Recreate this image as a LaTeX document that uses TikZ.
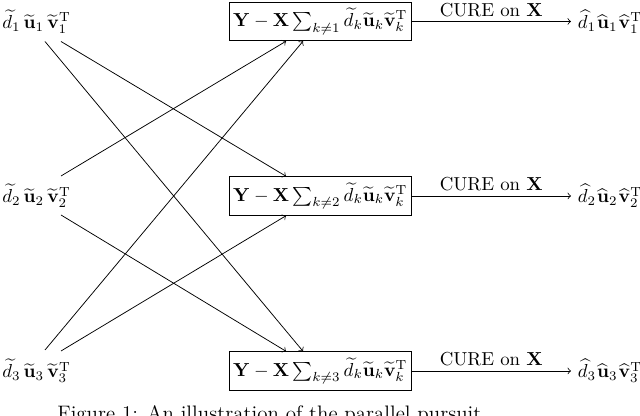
\documentclass[tikz,border=0pt]{standalone}
\usetikzlibrary{calc}
\begin{document}
\begin{tikzpicture}[x=0.532pt,y=-0.532pt,
  lab/.style={inner sep=0pt,anchor=west},
  res/.style={inner sep=3.5pt,anchor=west},
  box/.style={draw,thin,anchor=west,inner sep=2pt,minimum height=20.6pt},
  conn/.style={thin,->},
  cure/.style={above,inner sep=2.5pt}]
\clip (0,0) rectangle (640,416);
% left nodes
\node[lab] (L1) at (2,21.5) {$\widetilde{d}_1\,\widetilde{\mathbf{u}}_1\,\widetilde{\mathbf{v}}_1^{\mathrm{T}}$};
\node[lab] (L2) at (2,196) {$\widetilde{d}_2\,\widetilde{\mathbf{u}}_2\,\widetilde{\mathbf{v}}_2^{\mathrm{T}}$};
\node[lab] (L3) at (2,371) {$\widetilde{d}_3\,\widetilde{\mathbf{u}}_3\,\widetilde{\mathbf{v}}_3^{\mathrm{T}}$};
% boxes
\node[box] (B1) at (229,21.5) {$\mathbf{Y}-\mathbf{X}\sum_{k\neq1}\widetilde{d}_k\widetilde{\mathbf{u}}_k\widetilde{\mathbf{v}}_k^{\mathrm{T}}$};
\node[box] (B2) at (229,196) {$\mathbf{Y}-\mathbf{X}\sum_{k\neq2}\widetilde{d}_k\widetilde{\mathbf{u}}_k\widetilde{\mathbf{v}}_k^{\mathrm{T}}$};
\node[box] (B3) at (229,371) {$\mathbf{Y}-\mathbf{X}\sum_{k\neq3}\widetilde{d}_k\widetilde{\mathbf{u}}_k\widetilde{\mathbf{v}}_k^{\mathrm{T}}$};
% right nodes
\node[res] (R1) at (571,21.5) {$\widehat{d}_1\mkern1mu\widehat{\mathbf{u}}_1\mkern1mu\widehat{\mathbf{v}}_1^{\mathrm{T}}$};
\node[res] (R2) at (571,196) {$\widehat{d}_2\mkern1mu\widehat{\mathbf{u}}_2\mkern1mu\widehat{\mathbf{v}}_2^{\mathrm{T}}$};
\node[res] (R3) at (571,371) {$\widehat{d}_3\mkern1mu\widehat{\mathbf{u}}_3\mkern1mu\widehat{\mathbf{v}}_3^{\mathrm{T}}$};
% crossing connectors
\draw[conn] ($(L1.west)+(59,20)$) -- ($(B2.north west)+(57,0)$);
\draw[conn] ($(L1.west)+(43,20)$) -- ($(B3.north west)+(74,0)$);
\draw[conn] ($(L2.west)+(59,-20)$) -- ($(B1.south west)+(57,0)$);
\draw[conn] ($(L2.west)+(59,19)$) -- ($(B3.north west)+(57,0)$);
\draw[conn] ($(L3.west)+(43,-21)$) -- ($(B1.south west)+(74,0)$);
\draw[conn] ($(L3.west)+(59,-20)$) -- ($(B2.south west)+(57,0)$);
% CURE arrows
\draw[conn] (B1.east) -- node[cure] {CURE on $\mathbf{X}$} (R1.west);
\draw[conn] (B2.east) -- node[cure] {CURE on $\mathbf{X}$} (R2.west);
\draw[conn] (B3.east) -- node[cure] {CURE on $\mathbf{X}$} (R3.west);
% caption
\node[anchor=base west,inner sep=0pt,font=\fontsize{11.15}{13.6}\selectfont] (cap) at (57,421) {Figure 1: An illustration of the parallel pursuit};
\end{tikzpicture}
\end{document}
